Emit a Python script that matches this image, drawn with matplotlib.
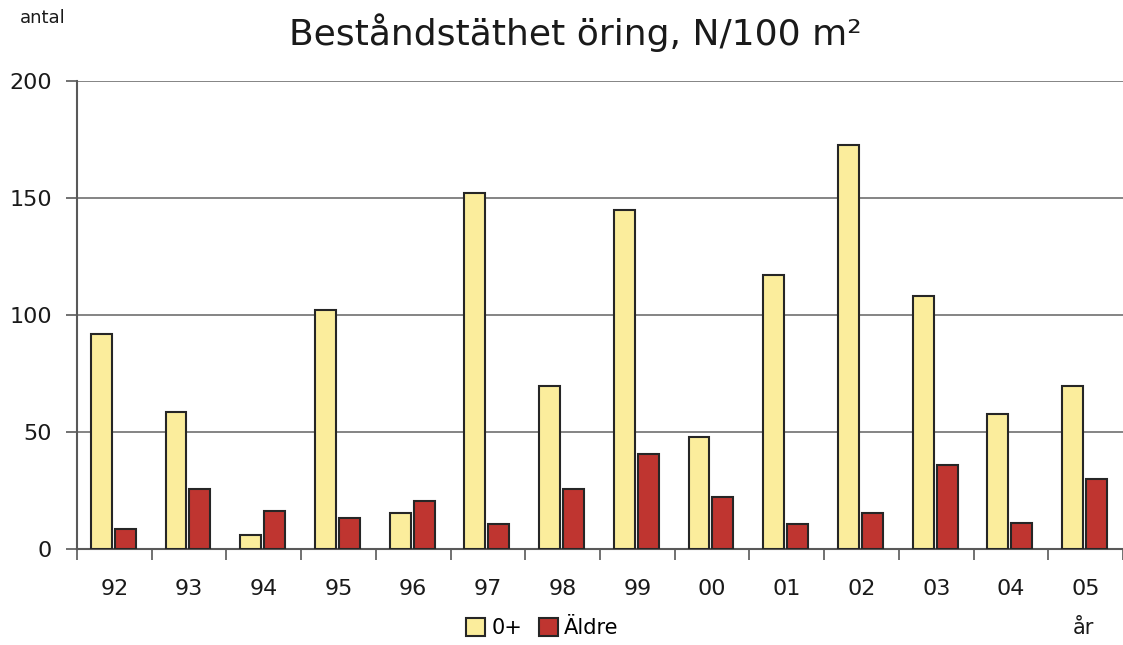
import matplotlib.pyplot as plt
import numpy as np
from matplotlib.patches import Patch

#%% Data
years = ['92', '93', '94', '95', '96', '97', '98', '99', '00', '01', '02', '03', '04', '05']
yngel = [92, 58.5, 6, 102, 15.5, 152, 69.5, 145, 48, 117, 172.5, 108, 57.5, 69.5]
aldre = [8.5, 25.5, 16, 13, 20.5, 10.5, 25.5, 40.5, 22, 10.5, 15.5, 36, 11, 30]

YELLOW = '#fbed9c'
RED = '#bf3530'
EDGE = '#262626'

plt.rcParams['font.family'] = ['DejaVu Sans']

#%% Plot
fig = plt.figure(figsize=(11.23, 6.45), dpi=100)
ax = fig.add_axes([0.0686, 0.149, 0.9314, 0.7256])

x = np.arange(len(years))
w = 0.28
ax.bar(x - 0.175, yngel, w, color=YELLOW, edgecolor=EDGE, linewidth=1.5, zorder=3)
ax.bar(x + 0.145, aldre, w, color=RED, edgecolor=EDGE, linewidth=1.5, zorder=3)

ax.set_xlim(-0.5, len(years) - 0.5)
ax.set_ylim(0, 200)
ax.set_yticks([0, 50, 100, 150, 200])
ax.yaxis.grid(True, color='#6f6f6f', linewidth=1.2, zorder=0)

# ticks between categories, labels at centres
ax.set_xticks(np.arange(len(years) + 1) - 0.5)
ax.set_xticklabels([])
ax.set_xticks(x, minor=True)
ax.set_xticklabels(years, minor=True)
ax.tick_params(axis='x', which='major', length=8, width=1.2, color='#595959', direction='out')
ax.tick_params(axis='x', which='minor', length=0, labelsize=16, pad=22, labelcolor='#1a1a1a')
ax.tick_params(axis='y', length=8, width=1.2, color='#595959', labelsize=16, pad=10, labelcolor='#1a1a1a')

for s in ['top', 'right']:
    ax.spines[s].set_visible(False)
ax.spines['left'].set_color('#595959')
ax.spines['bottom'].set_color('#595959')
ax.spines['left'].set_linewidth(1.5)
ax.spines['bottom'].set_linewidth(1.5)

fig.text(0.512, 0.950, 'Beståndstäthet öring, N/100 m²', ha='center', va='center',
         fontsize=26, color='#1a1a1a')
fig.text(0.018, 0.972, 'antal', ha='left', va='center', fontsize=13, color='#1a1a1a')
fig.text(0.955, 0.026, 'år', ha='left', va='center', fontsize=15, color='#1a1a1a')

handles = [Patch(facecolor=YELLOW, edgecolor=EDGE, linewidth=1.5),
           Patch(facecolor=RED, edgecolor=EDGE, linewidth=1.5)]
fig.legend(handles, ['0+', 'Äldre'], loc='center', bbox_to_anchor=(0.483, 0.026),
           ncol=2, frameon=False, fontsize=15, handlelength=0.9, handleheight=0.9,
           handletextpad=0.3, columnspacing=0.8, borderpad=0)

fig.savefig('out.png', dpi=100)
